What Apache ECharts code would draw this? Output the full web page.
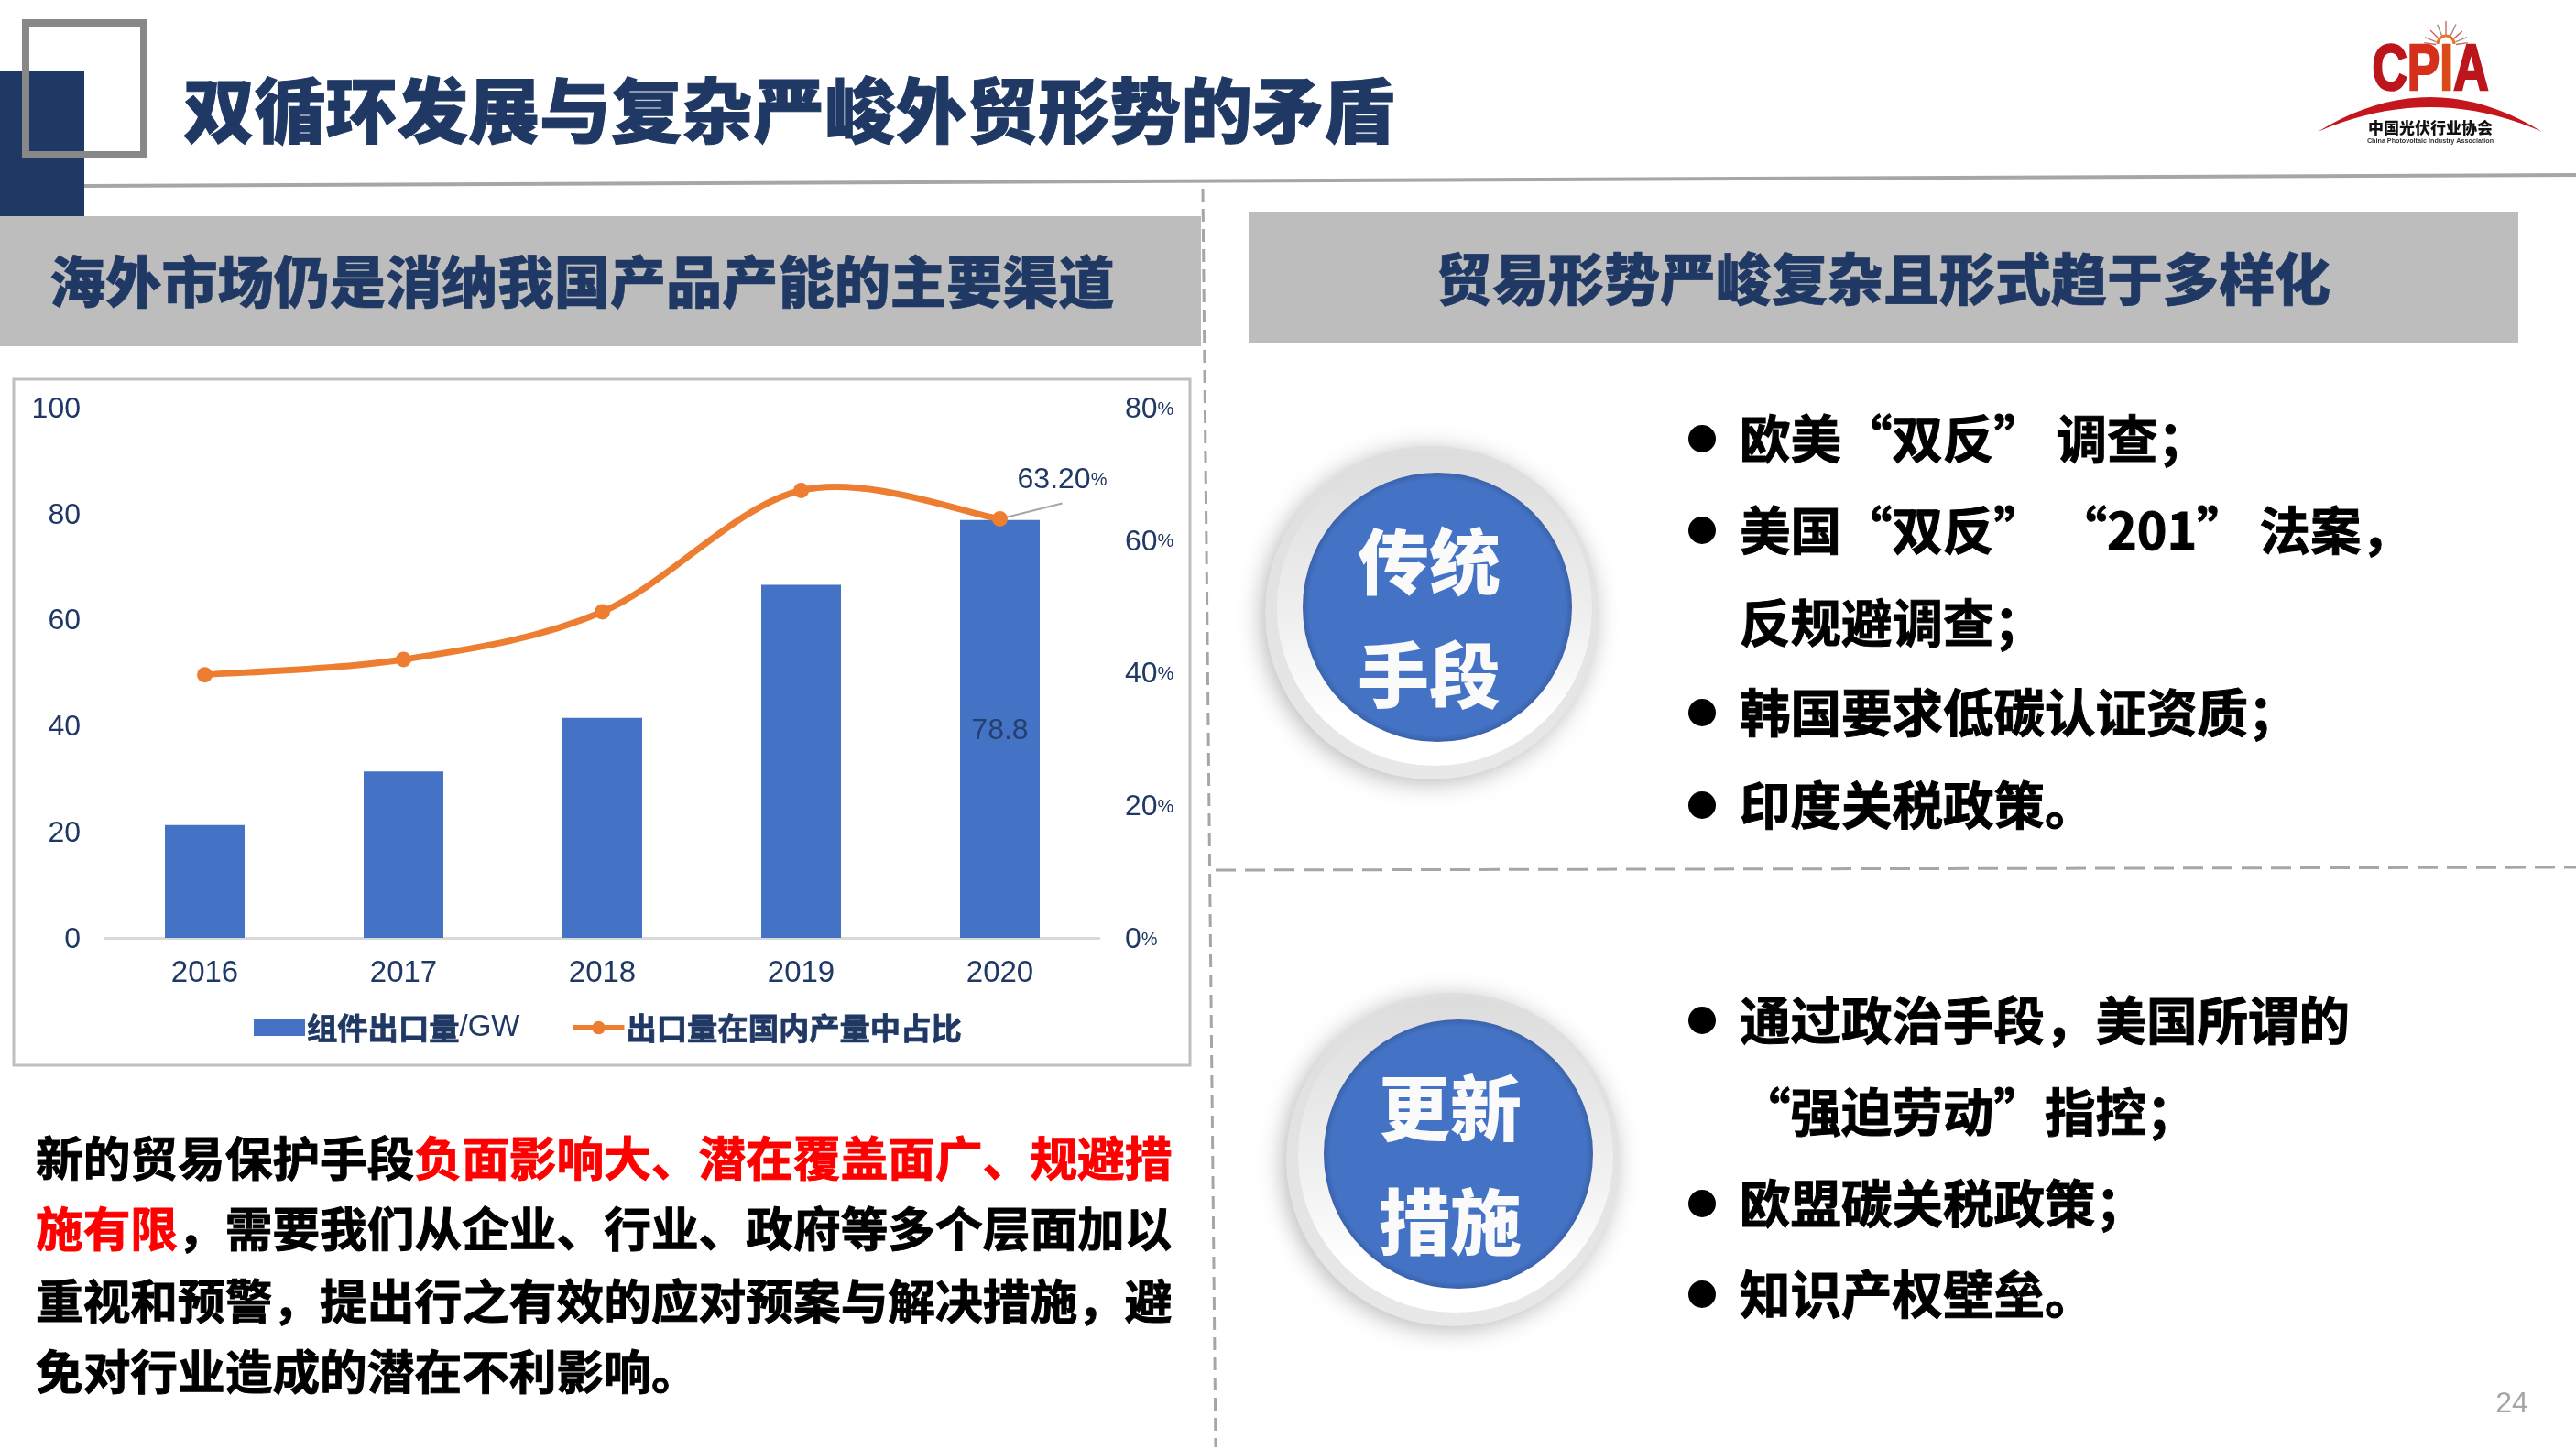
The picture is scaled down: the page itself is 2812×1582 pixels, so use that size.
<!DOCTYPE html>
<html>
<head>
<meta charset="utf-8">
<title>双循环发展与复杂严峻外贸形势的矛盾</title>
<script src="https://cdn.jsdelivr.net/npm/echarts@6/dist/echarts.min.js"></script>
<style>
html, body { margin: 0; padding: 0; background: #fff; }
#main { width: 2812px; height: 1582px; }
</style>
</head>
<body>
<div id="main"></div>
<script>
// chart data
var years = ['2016', '2017', '2018', '2019', '2020'];
var exportGW = [21.3, 31.4, 41.5, 66.6, 78.8];
var exportShare = [39.7, 42.0, 49.2, 67.5, 63.2];
var leftTicks = {min: 0, max: 100, interval: 20};
var rightTicks = {min: 0, max: 80, interval: 20};
var barName = '组件出口量/GW';
var lineName = '出口量在国内产量中占比';

// slide text
var titleText = '双循环发展与复杂严峻外贸形势的矛盾';
var leftHead = '海外市场仍是消纳我国产品产能的主要渠道';
var rightHead = '贸易形势严峻复杂且形式趋于多样化';
var listOne = ['欧美“双反” 调查；', '美国“双反” “201” 法案，', '反规避调查；', '韩国要求低碳认证资质；', '印度关税政策。'];
var listOneY = [479, 579, 680, 778, 879];
var listOneDot = [true, true, false, true, true];
var listTwo = ['通过政治手段，美国所谓的', '“强迫劳动”指控；', '欧盟碳关税政策；', '知识产权壁垒。'];
var listTwoY = [1114, 1214, 1314, 1413];
var listTwoDot = [true, false, true, true];

var navy = '#1F3864';
var cjk = '"Noto Sans CJK SC", "Liberation Sans", sans-serif';
var latin = '"Liberation Sans", "Noto Sans CJK SC", sans-serif';

function txt(text, x, y, size, color, align, extra) {
    var style = {
        text: text, x: x, y: y, fill: color, fontSize: size,
        fontFamily: cjk, fontWeight: 'bold',
        align: align || 'left', verticalAlign: 'middle'
    };
    for (var k in extra) style[k] = extra[k];
    return {type: 'text', z: 20, style: style};
}

function badge(cx, cy, lineA, lineB) {
    // ring centre sits a little left and below the blue disc
    return [
        {type: 'circle', z: 5, shape: {cx: cx - 6, cy: cy + 6, r: 182}, style: {
            fill: {type: 'linear', x: 0, y: 0, x2: 0, y2: 1, colorStops: [
                {offset: 0, color: '#DEDEDE'}, {offset: 1, color: '#E8E8E8'}]},
            shadowBlur: 26, shadowColor: 'rgba(0,0,0,0.28)', shadowOffsetX: -4, shadowOffsetY: 4
        }},
        {type: 'circle', z: 6, shape: {cx: cx - 3, cy: cy + 1, r: 172}, style: {
            fill: {type: 'linear', x: 0, y: 0, x2: 0, y2: 1, colorStops: [
                {offset: 0, color: '#DCDCDC'}, {offset: 0.55, color: '#F0F0F0'}, {offset: 0.85, color: '#FFFFFF'}, {offset: 1, color: '#FFFFFF'}]}
        }},
        {type: 'circle', z: 7, shape: {cx: cx, cy: cy, r: 147}, style: {
            fill: {type: 'radial', x: 0.5, y: 0.5, r: 0.5, colorStops: [
                {offset: 0, color: '#4472C4'}, {offset: 0.95, color: '#4472C4'}, {offset: 1, color: '#3A62AB'}]}
        }},
        txt(lineA, cx - 9, cy - 50, 78, '#FAFAFA', 'center', {fontWeight: 900}),
        txt(lineB, cx - 9, cy + 74, 78, '#FAFAFA', 'center', {fontWeight: 900})
    ];
}

function bulletList(items, ys, dots, out) {
    for (var i = 0; i < items.length; i++) {
        out.push(txt(items[i], 1899, ys[i], 55.5, '#000', 'left', {stroke: '#000', lineWidth: 1}));
        if (dots[i]) out.push({type: 'circle', z: 20, shape: {cx: 1858, cy: ys[i], r: 15}, style: {fill: '#000'}});
    }
}

function quad(x0, y0, cx, cy, x1, y1) {
    var pts = [];
    for (var t = 0; t <= 20; t++) {
        var u = t / 20;
        pts.push([(1 - u) * (1 - u) * x0 + 2 * u * (1 - u) * cx + u * u * x1, (1 - u) * (1 - u) * y0 + 2 * u * (1 - u) * cy + u * u * y1]);
    }
    return pts;
}

function logo() {
    var els = [];
    var rays = [[-90, 27], [-65, 26], [-42, 24], [-22, 25], [-8, 24], [-112, 25], [-135, 24], [-158, 25], [-172, 24]];
    for (var i = 0; i < rays.length; i++) {
        var a = rays[i][0] * Math.PI / 180, len = rays[i][1];
        els.push({type: 'line', z: 20, shape: {
            x1: 2670 + Math.cos(a) * 11, y1: 50 + Math.sin(a) * 11,
            x2: 2670 + Math.cos(a) * len, y2: 50 + Math.sin(a) * len
        }, style: {stroke: i % 2 ? '#A58A7C' : '#C9675A', lineWidth: 1.4}});
    }
    els.push({type: 'arc', z: 20, shape: {cx: 2670, cy: 48, r: 9, startAngle: Math.PI, endAngle: 0},
        style: {stroke: '#E8732A', fill: 'none', lineWidth: 3}});
    // logo word squeezed to the narrow letter shape
    els.push({type: 'text', z: 21, x: 2653, y: 79, scaleX: 0.76, style: {
        text: '{a|C}{b|P}{c|I}{a|A}', align: 'center', verticalAlign: 'middle',
        fontSize: 70, fontWeight: 'bold', fontFamily: latin,
        rich: {
            a: {fill: '#BC151C', fontSize: 70, fontWeight: 'bold', fontFamily: latin, stroke: '#BC151C', lineWidth: 2.5},
            b: {fill: '#D4301B', fontSize: 70, fontWeight: 'bold', fontFamily: latin, stroke: '#D4301B', lineWidth: 2.5},
            c: {fill: '#DC4A1A', fontSize: 70, fontWeight: 'bold', fontFamily: latin, stroke: '#DC4A1A', lineWidth: 2.5}
        }
    }});
    var top = quad(2530, 144, 2653, 68, 2775, 144);
    var under = quad(2775, 144, 2653, 90, 2530, 144);
    els.push({type: 'polygon', z: 20, shape: {points: top.concat(under)}, style: {fill: '#C4161C'}});
    els.push(txt('中国光伏行业协会', 2653, 140, 17, '#111', 'center', {fontWeight: 900}));
    els.push(txt('China Photovoltaic Industry Association', 2653, 154, 7.2, '#333', 'center',
        {fontFamily: latin}));
    return els;
}

var redRich = {
    k: {fill: '#000', fontSize: 51.7, fontWeight: 'bold', fontFamily: cjk, stroke: '#000', lineWidth: 1},
    r: {fill: '#FF0000', fontSize: 51.7, fontWeight: 'bold', fontFamily: cjk, stroke: '#FF0000', lineWidth: 1}
};

var graphics = [
    // header
    {type: 'rect', z: 1, shape: {x: 0, y: 78, width: 92, height: 158}, style: {fill: '#1F3864'}},
    {type: 'rect', z: 2, shape: {x: 28, y: 25, width: 129, height: 144}, style: {fill: 'none', stroke: '#888', lineWidth: 8}},
    {type: 'polygon', z: 1, shape: {points: [[92, 201], [2812, 189], [2812, 193], [92, 205]]}, style: {fill: '#A6A6A6'}},
    txt(titleText, 200, 120, 77.8, navy, 'left', {fontWeight: 900, stroke: navy, lineWidth: 1}),
    // section bands
    {type: 'rect', z: 1, shape: {x: 0, y: 236, width: 1311, height: 142}, style: {fill: '#BDBDBD'}},
    {type: 'rect', z: 1, shape: {x: 1363, y: 232, width: 1386, height: 142}, style: {fill: '#BDBDBD'}},
    txt(leftHead, 54, 308, 61.2, navy, 'left', {fontWeight: 900, stroke: navy, lineWidth: 0.6}),
    txt(rightHead, 2056, 305, 61, navy, 'center', {fontWeight: 900, stroke: navy, lineWidth: 0.6}),
    // dashed dividers
    {type: 'line', z: 1, shape: {x1: 1313, y1: 206, x2: 1327, y2: 1580}, style: {stroke: '#A6A6A6', lineWidth: 3, lineDash: [14, 8]}},
    {type: 'line', z: 1, shape: {x1: 1327, y1: 950, x2: 2812, y2: 947}, style: {stroke: '#A6A6A6', lineWidth: 3, lineDash: [22, 10]}},
    // chart frame
    {type: 'rect', z: 1, shape: {x: 15, y: 414, width: 1284, height: 749}, style: {fill: 'none', stroke: '#BFBFBF', lineWidth: 3}},
    // note below the chart
    txt('{k|新的贸易保护手段}{r|负面影响大、潜在覆盖面广、规避措}', 39, 1264, 51.7, '#000', 'left', {rich: redRich}),
    txt('{r|施有限}{k|，需要我们从企业、行业、政府等多个层面加以}', 39, 1341, 51.7, '#000', 'left', {rich: redRich}),
    txt('重视和预警，提出行之有效的应对预案与解决措施，避', 39, 1420, 51.7, '#000', 'left', {stroke: '#000', lineWidth: 1}),
    txt('免对行业造成的潜在不利影响。', 39, 1497, 51.7, '#000', 'left', {stroke: '#000', lineWidth: 1}),
    // page number
    txt('24', 2742, 1533, 32, '#A6A6A6', 'center', {fontFamily: latin, fontWeight: 'normal'})
];
graphics = graphics.concat(badge(1569, 663, '传统', '手段'));
graphics = graphics.concat(badge(1592, 1260, '更新', '措施'));
bulletList(listOne, listOneY, listOneDot, graphics);
bulletList(listTwo, listTwoY, listTwoDot, graphics);
graphics = graphics.concat(logo());

var pctRich = {
    n: {fontSize: 32, color: navy, fontFamily: latin},
    p: {fontSize: 20, color: navy, fontFamily: latin}
};

// office style smooth curve: tangent at a point follows its two neighbours,
// so the curve may rise a little past 2019 as in the source chart
function renderCurve(params, api) {
    var i = params.dataIndex;
    var p = function (k) {
        k = Math.max(0, Math.min(exportShare.length - 1, k));
        return api.coord([k, exportShare[k]]);
    };
    // last point: leader line out towards the 63.20% label
    if (i >= exportShare.length - 1) {
        var end = p(i);
        return {
            type: 'line',
            shape: {x1: end[0], y1: end[1], x2: end[0] + 68, y2: end[1] - 17},
            style: {stroke: '#A6A6A6', lineWidth: 2}
        };
    }
    var a = p(i - 1), b = p(i), c = p(i + 1), d = p(i + 2);
    return {
        type: 'bezierCurve',
        shape: {
            x1: b[0], y1: b[1], x2: c[0], y2: c[1],
            cpx1: b[0] + (c[0] - a[0]) / 6, cpy1: b[1] + (c[1] - a[1]) / 6,
            cpx2: c[0] - (d[0] - b[0]) / 6, cpy2: c[1] - (d[1] - b[1]) / 6
        },
        style: {stroke: '#ED7D31', lineWidth: 7, fill: 'none', lineCap: 'round'}
    };
}

var option = {
    backgroundColor: '#fff',
    animation: false,
    graphic: {elements: graphics},
    grid: {left: 115, top: 445, width: 1085, height: 579, containLabel: false},
    legend: {
        left: 272, top: 1100, itemWidth: 56, itemHeight: 18, itemGap: 55,
        data: [{name: barName, icon: 'rect'}, {name: lineName}],
        lineStyle: {width: 6, color: '#ED7D31'},
        formatter: function (name) {
            if (name == barName) return '{b|组件出口量}{n|/GW}';
            return '{b|' + name + '}';
        },
        textStyle: {
            padding: [0, 0, 0, -3],
            rich: {
                b: {fontSize: 33.3, fontWeight: 'bold', color: navy, fontFamily: cjk, textBorderColor: navy, textBorderWidth: 0.8},
                n: {fontSize: 33, color: navy, fontFamily: latin}
            }
        }
    },
    xAxis: {
        type: 'category', data: years,
        axisLine: {lineStyle: {color: '#D9D9D9', width: 3}},
        axisTick: {show: false},
        axisLabel: {fontSize: 33, color: navy, fontFamily: latin, margin: 22}
    },
    yAxis: [
        {
            type: 'value', min: leftTicks.min, max: leftTicks.max, interval: leftTicks.interval,
            splitLine: {show: false}, axisLine: {show: false}, axisTick: {show: false},
            axisLabel: {
                margin: 27, padding: [4, 0, 0, 0],
                formatter: function (v) { return '{n|' + v + '}'; },
                rich: pctRich
            }
        },
        {
            type: 'value', position: 'right', min: rightTicks.min, max: rightTicks.max, interval: rightTicks.interval,
            splitLine: {show: false}, axisLine: {show: false}, axisTick: {show: false},
            axisLabel: {
                margin: 28, align: 'left', padding: [4, 0, 0, 0],
                formatter: function (v) { return '{n|' + v + '}{p|%}'; },
                rich: pctRich
            }
        }
    ],
    series: [
        {
            name: barName, type: 'bar', barWidth: 87, yAxisIndex: 0, z: 2,
            itemStyle: {color: '#4472C4'},
            data: exportGW.map(function (v, i) {
                if (i < exportGW.length - 1) return v;
                return {value: v, label: {show: true, position: 'inside', offset: [0, 2], fontSize: 32, color: '#23406F', fontFamily: latin}};
            })
        },
        {
            name: 'curve', type: 'custom', yAxisIndex: 1, z: 3, silent: true,
            renderItem: renderCurve, data: exportShare
        },
        {
            name: lineName, type: 'line', yAxisIndex: 1, z: 4,
            symbol: 'circle', symbolSize: 17,
            lineStyle: {color: '#ED7D31', width: 0},
            itemStyle: {color: '#ED7D31'},
            labelLayout: {dx: 68, dy: -13},
            data: exportShare.map(function (v, i) {
                if (i < exportShare.length - 1) return v;
                return {
                    value: v,
                    label: {
                        show: true, position: 'top',
                        formatter: function (p) { return '{n|' + p.value.toFixed(2) + '}{p|%}'; },
                        rich: pctRich
                    }
                };
            })
        }
    ]
};

var myChart = echarts.init(document.getElementById('main'));
myChart.setOption(option);
</script>
</body>
</html>
